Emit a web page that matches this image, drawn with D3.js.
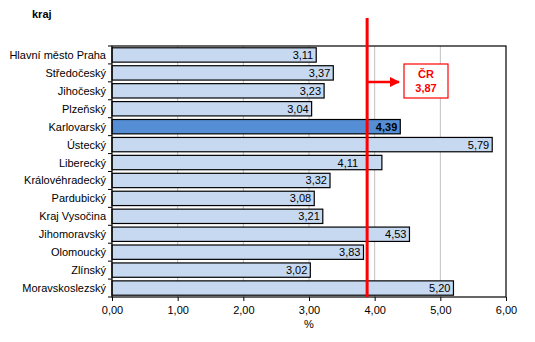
<!DOCTYPE html>
<html>
<head>
<meta charset="utf-8">
<script src="https://cdn.jsdelivr.net/npm/d3@7"></script>
<style>
  body { margin: 0; background: #fff; }
  text { font-family: "Liberation Sans", Arial, sans-serif; }
</style>
</head>
<body>
<svg id="chart" width="535" height="342"></svg>
<script>
const regions = ["Hlavní město Praha", "Středočeský", "Jihočeský", "Plzeňský", "Karlovarský",
  "Ústecký", "Liberecký", "Královéhradecký", "Pardubický", "Kraj Vysočina",
  "Jihomoravský", "Olomoucký", "Zlínský", "Moravskoslezský"]
const values = [3.11, 3.37, 3.23, 3.04, 4.39, 5.79, 4.11, 3.32, 3.08, 3.21, 4.53, 3.83, 3.02, 5.20]
const highlight = "Karlovarský"
const czAverage = 3.87
const xTicks = [0, 1, 2, 3, 4, 5, 6]

const fmt = v => d3.format(".2f")(v).replace(".", ",")

const svg = d3.select("#chart")
const margin = { left: 112, right: 29, top: 46, bottom: 45 }
const width = 535, height = 342
const x = d3.scaleLinear().domain([0, 6]).range([margin.left, width - margin.right])
const y = d3.scaleBand().domain(regions).range([margin.top, height - margin.bottom]).paddingInner(0.2).paddingOuter(0.1)
const avgX = x(czAverage) + 1

// title
svg.append("text").attr("x", 32).attr("y", 18).attr("font-size", 11).attr("font-weight", "bold").text("kraj")

// gridlines
svg.append("g").selectAll("line").data(xTicks.slice(1, -1)).join("line")
  .attr("x1", d => x(d)).attr("x2", d => x(d))
  .attr("y1", margin.top).attr("y2", height - margin.bottom)
  .attr("stroke", "#c0c0c0")

// bars
svg.append("g").selectAll("rect").data(regions).join("rect")
  .attr("x", x(0))
  .attr("y", d => y(d))
  .attr("width", (d, i) => x(values[i]) - x(0))
  .attr("height", y.bandwidth())
  .attr("fill", d => d === highlight ? "#558ed5" : "#c6d9f1")
  .attr("stroke", "#000")
  .attr("stroke-width", 1.2)

// frame
svg.append("rect")
  .attr("x", margin.left).attr("y", margin.top)
  .attr("width", x(6) - x(0)).attr("height", height - margin.bottom - margin.top)
  .attr("fill", "none").attr("stroke", "#000").attr("stroke-width", 1.2)

// y axis
const yAxis = svg.append("g").attr("transform", `translate(${margin.left},0)`)
yAxis.selectAll("text").data(regions).join("text")
  .attr("x", -6)
  .attr("y", d => y(d) + y.bandwidth() / 2 + 4)
  .attr("text-anchor", "end")
  .attr("font-size", 11)
  .text(d => d)
yAxis.selectAll("line").data(d3.range(regions.length + 1)).join("line")
  .attr("x1", -4).attr("x2", 0)
  .attr("y1", i => margin.top + i * (height - margin.bottom - margin.top) / regions.length)
  .attr("y2", i => margin.top + i * (height - margin.bottom - margin.top) / regions.length)
  .attr("stroke", "#000")

// x axis
const xAxis = svg.append("g")
  .attr("transform", `translate(0,${height - margin.bottom})`)
  .call(d3.axisBottom(x).tickValues(xTicks).tickFormat(fmt).tickSize(4).tickPadding(5))
xAxis.select(".domain").remove()
xAxis.selectAll("line").attr("stroke", "#000")
xAxis.selectAll("text").attr("font-size", 11).attr("font-family", "Liberation Sans, Arial, sans-serif")
svg.append("text").attr("x", x(3)).attr("y", 328).attr("text-anchor", "middle").attr("font-size", 11).text("%")

// CR average line
const red = "#ff0000"
svg.append("line")
  .attr("x1", avgX).attr("x2", avgX)
  .attr("y1", 18).attr("y2", height - margin.bottom)
  .attr("stroke", red).attr("stroke-width", 3)

// value labels; a label that would sit on the red line is moved left of it
const labels = svg.append("g").selectAll("text").data(regions).join("text")
  .attr("y", d => y(d) + y.bandwidth() / 2 + 4)
  .attr("text-anchor", "end")
  .attr("font-size", 11)
  .attr("font-weight", d => d === highlight ? "bold" : null)
  .text((d, i) => fmt(values[i]))
  .attr("x", function (d, i) {
    const end = x(values[i]) - 3
    const start = end - this.getComputedTextLength()
    return (start < avgX + 3 && end > avgX - 3) ? avgX - 9 : end
  })

svg.append("defs").append("marker")
  .attr("id", "arrow").attr("viewBox", "0 0 10 10").attr("refX", 9).attr("refY", 5)
  .attr("markerWidth", 4).attr("markerHeight", 4).attr("orient", "auto")
  .append("path").attr("d", "M0,0L10,5L0,10Z").attr("fill", red)

svg.append("line")
  .attr("x1", avgX).attr("x2", 399)
  .attr("y1", 82).attr("y2", 82)
  .attr("stroke", red).attr("stroke-width", 2.5)
  .attr("marker-end", "url(#arrow)")

svg.append("rect").attr("x", 404).attr("y", 64).attr("width", 44).attr("height", 34)
  .attr("fill", "#fff").attr("stroke", red).attr("stroke-width", 1.2)
svg.append("text").attr("x", 426).attr("y", 78).attr("text-anchor", "middle")
  .attr("font-size", 11).attr("font-weight", "bold").attr("fill", red).text("ČR")
svg.append("text").attr("x", 426).attr("y", 92).attr("text-anchor", "middle")
  .attr("font-size", 11).attr("font-weight", "bold").attr("fill", red).text(fmt(czAverage))
</script>
</body>
</html>
